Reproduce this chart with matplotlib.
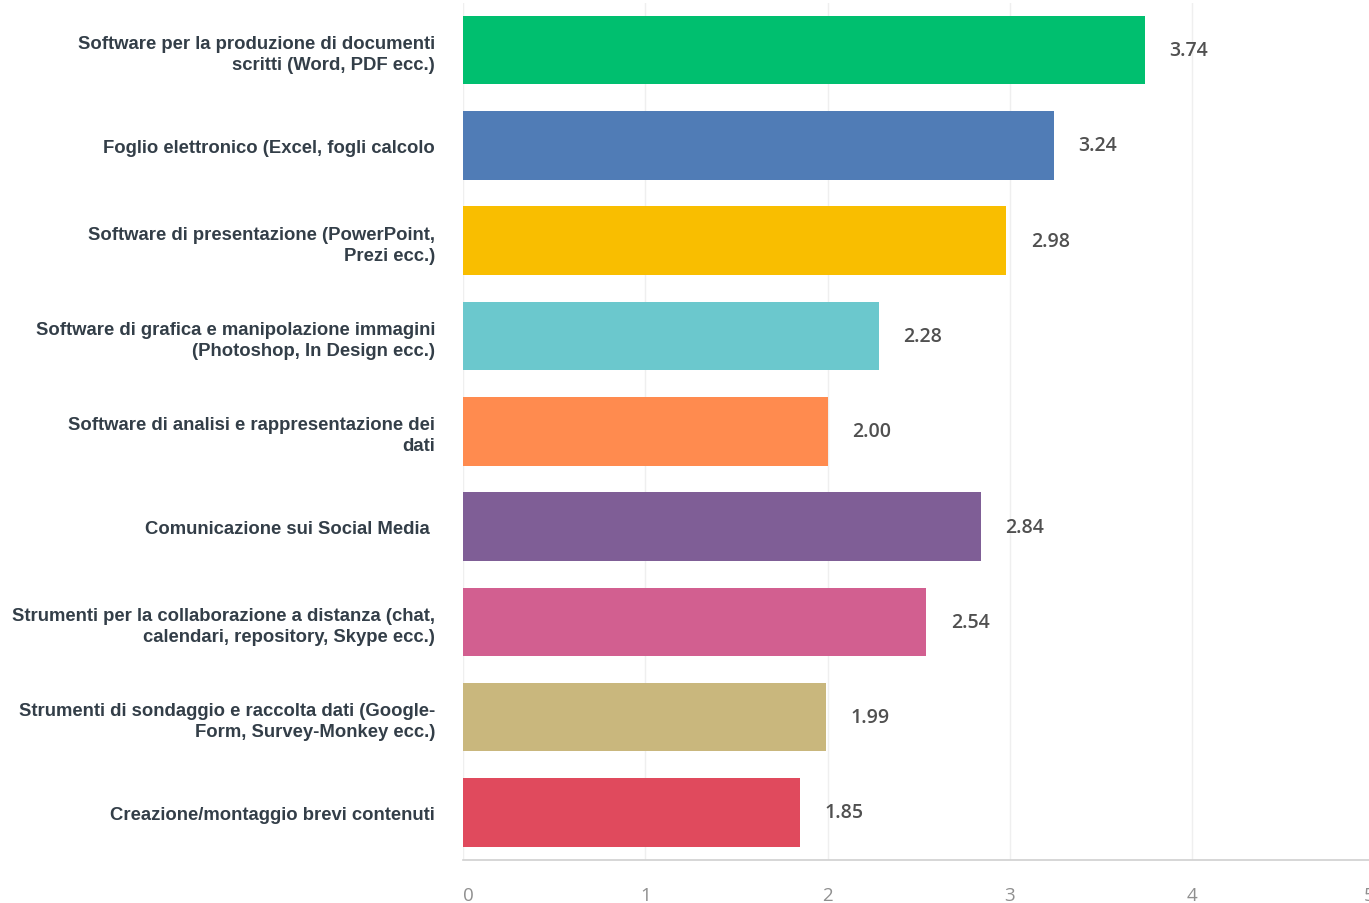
import matplotlib
matplotlib.use("Agg")
import matplotlib.pyplot as plt

categories = [
    "Software per la produzione di documenti\nscritti (Word, PDF ecc.)",
    "Foglio elettronico (Excel, fogli calcolo",
    "Software di presentazione (PowerPoint,\nPrezi ecc.)",
    "Software di grafica e manipolazione immagini\n(Photoshop, In Design ecc.)",
    "Software di analisi e rappresentazione dei\ndati",
    "Comunicazione sui Social Media ",
    "Strumenti per la collaborazione a distanza (chat,\ncalendari, repository, Skype ecc.)",
    "Strumenti di sondaggio e raccolta dati (Google-\nForm, Survey-Monkey ecc.)",
    "Creazione/montaggio brevi contenuti",
]
values = [3.74, 3.24, 2.98, 2.28, 2.00, 2.84, 2.54, 1.99, 1.85]
colors = ["#00BF6F", "#507CB6", "#F9BE00", "#6BC8CD", "#FF8B4F",
          "#7F5E96", "#D25F90", "#C9B77D", "#E04A5D"]
x_ticks = [0, 1, 2, 3, 4, 5]

W, H = 1369, 904
fig = plt.figure(figsize=(W / 100, H / 100), dpi=100)
left_px, bottom_px, top_px = 463, 861, 3.5
unit_px = 182.3
ax = fig.add_axes([left_px / W, 1 - bottom_px / H,
                   5 * unit_px / W, (bottom_px - top_px) / H])

ypos = list(range(len(values)))
ax.barh(ypos, values, height=0.72, color=colors, zorder=2)
ax.set_xlim(0, 5)
ax.set_ylim(len(values) - 0.5, -0.5)

for y, v in zip(ypos, values):
    ax.text(v + 0.135, y, f"{v:.2f}", va="center", ha="left",
            fontsize=14, color="#505050", family="Open Sans", fontweight="semibold")

ax.set_yticks(ypos)
ax.set_yticklabels(categories, fontsize=13.3, fontweight="bold",
                   color="#333e48", family="Liberation Sans", linespacing=1.3)
ax.tick_params(axis="y", length=0, pad=20)

ax.set_xticks(x_ticks)
ax.set_xticklabels([str(t) for t in x_ticks], fontsize=13.5, color="#8f8f8f",
                   family="Open Sans", fontweight="normal")
ax.tick_params(axis="x", length=0, pad=19)
xlabels = ax.get_xticklabels()
xlabels[0].set_horizontalalignment("left")
xlabels[-1].set_horizontalalignment("right")

ax.grid(axis="x", color="#efefef", linewidth=1, zorder=0)
for s in ["top", "right", "left"]:
    ax.spines[s].set_visible(False)
ax.spines["bottom"].set_color("#d0d0d0")
ax.spines["bottom"].set_linewidth(1.2)

fig.savefig("out.png", dpi=100)
